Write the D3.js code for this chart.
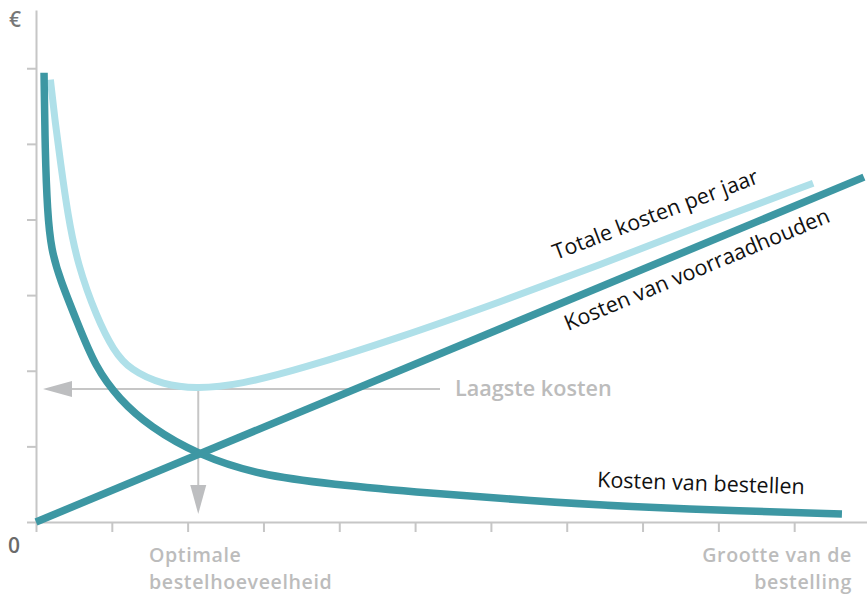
<!DOCTYPE html>
<html>
<head>
<meta charset="utf-8">
<script src="https://cdn.jsdelivr.net/npm/d3@7"></script>
<style>
  body { margin: 0; background: #fff; }
  svg { display: block; font-family: "Open Sans", sans-serif; }
</style>
</head>
<body>
<svg id="chart" width="867" height="595"></svg>
<script>
// Chart data (arbitrary units)
const xTicks = [0, 1, 2, 3, 4, 5, 6, 7, 8, 9, 10];
const yTicks = [0, 1, 2, 3, 4, 5, 6];

// Kosten van bestellen
const orderQty  = [0.106, 0.12, 0.15, 0.20, 0.32, 0.54, 0.78, 1.10, 1.50, 2.14, 2.95, 3.88, 5.20, 6.52, 7.84, 9.29, 10.63];
const orderCost = [5.94, 4.91, 4.10, 3.60, 3.20, 2.65, 2.05, 1.62, 1.26, 0.885, 0.62, 0.50, 0.38, 0.28, 0.20, 0.145, 0.106];

// Kosten van voorraadhouden
const holdQty  = [0, 10.92];
const holdCost = [0, 4.56];

// Totale kosten per jaar
const totalQty  = [0.19, 0.25, 0.32, 0.42, 0.55, 0.80, 1.02, 1.24, 1.68, 2.12, 2.70, 3.48, 4.80, 6.12, 7.44, 8.76, 10.25];
const totalCost = [5.85, 5.31, 4.78, 4.05, 3.40, 2.71, 2.27, 2.01, 1.81, 1.76, 1.82, 2.02, 2.44, 2.91, 3.40, 3.92, 4.48];

// Optimum (minimum of total costs)
const optimum = { qty: 2.14, cost: 1.76 };

const dark = '#3d97a3';
const light = '#afe0e9';
const axisGrey = '#c6c6c6';
const labelGrey = '#bcbcbc';

const svg = d3.select('#chart');

const x = d3.scaleLinear().domain([0, 11]).range([36, 870]);
const y = d3.scaleLinear().domain([0, 6.77]).range([522, 10]);

// Axes
const xAxis = svg.append('g')
    .attr('transform', `translate(0,${y(0)})`)
    .call(d3.axisBottom(x).tickValues(xTicks).tickSize(10).tickSizeOuter(0).tickFormat(''));
const yAxis = svg.append('g')
    .attr('transform', `translate(${x(0)},0)`)
    .call(d3.axisLeft(y).tickValues(yTicks).tickSize(9).tickSizeOuter(0).tickFormat(''));
[xAxis, yAxis].forEach(a => {
    a.selectAll('path, line').attr('stroke', axisGrey).attr('stroke-width', 2);
});

// Axis labels
svg.append('text').attr('x', 9).attr('y', 27)
    .attr('fill', '#777').style('font-size', '21px').style('font-weight', 600).text('€');
svg.append('text').attr('x', 8).attr('y', 553)
    .attr('fill', '#6a6a6a').style('font-size', '21px').style('font-weight', 600).text('0');

const grey = svg.append('g').attr('fill', labelGrey).style('font-weight', 600);

// two-line labels under the x axis
function twoLines(xPos, anchor, lines) {
    const t = grey.append('text').attr('y', 562).attr('text-anchor', anchor)
        .style('font-size', '19.6px').style('letter-spacing', '0.6px');
    lines.forEach((s, i) => {
        t.append('tspan').attr('x', xPos).attr('dy', i ? 27 : 0).text(s);
    });
}
twoLines(149, 'start', ['Optimale', 'bestelhoeveelheid']);
twoLines(852, 'end', ['Grootte van de', 'bestelling']);
grey.append('text').attr('x', 455).attr('y', 396)
    .style('font-size', '21.6px').text('Laagste kosten');

// Optimum guide lines with arrows
const ox = x(optimum.qty), oy = y(optimum.cost);
svg.append('line')
    .attr('x1', 72).attr('x2', 440).attr('y1', oy).attr('y2', oy)
    .attr('stroke', axisGrey).attr('stroke-width', 2);
svg.append('path')
    .attr('d', `M43,${oy} L72,${oy - 8} L72,${oy + 8} Z`)
    .attr('fill', '#bdbec0');
svg.append('line')
    .attr('x1', ox).attr('x2', ox).attr('y1', oy).attr('y2', 486)
    .attr('stroke', axisGrey).attr('stroke-width', 2);
svg.append('path')
    .attr('d', `M${ox},514 L${ox - 8},485 L${ox + 8},485 Z`)
    .attr('fill', '#bdbec0');

// Curves
const smooth = d3.line()
    .x(d => x(d[0]))
    .y(d => y(d[1]))
    .curve(d3.curveBasis);
const straight = d3.line()
    .x(d => x(d[0]))
    .y(d => y(d[1]));

svg.append('path')
    .datum(d3.zip(totalQty, totalCost))
    .attr('d', smooth)
    .attr('fill', 'none').attr('stroke', light).attr('stroke-width', 7);
svg.append('path')
    .datum(d3.zip(orderQty, orderCost))
    .attr('d', smooth)
    .attr('fill', 'none').attr('stroke', dark).attr('stroke-width', 7.5);
svg.append('path')
    .datum(d3.zip(holdQty, holdCost))
    .attr('d', straight)
    .attr('fill', 'none').attr('stroke', dark).attr('stroke-width', 7.5);

// Curve labels
const lbl = svg.append('g').attr('fill', '#111').style('font-size', '21.5px');
lbl.append('text')
    .attr('transform', 'translate(556,260) rotate(-20.8)')
    .text('Totale kosten per jaar');
lbl.append('text')
    .attr('transform', 'translate(568,331) rotate(-22.6)')
    .text('Kosten van voorraadhouden');
lbl.append('text')
    .attr('transform', 'translate(597,487) rotate(2)')
    .text('Kosten van bestellen');
</script>
</body>
</html>
